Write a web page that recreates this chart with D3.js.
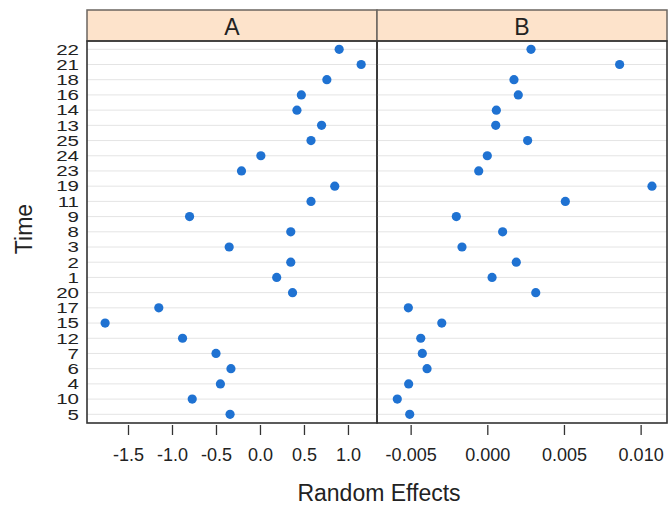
<!DOCTYPE html>
<html>
<head>
<meta charset="utf-8">
<script src="https://cdn.jsdelivr.net/npm/d3@7"></script>
<style>
  body { margin: 0; background: #fff; }
  text { font-family: "Liberation Sans", Arial, sans-serif; fill: #222; }
</style>
</head>
<body>
<svg width="668" height="506"></svg>
<script>
// rows, top to bottom
var times = ["22","21","18","16","14","13","25","24","23","19","11","9","8","3","2","1","20","17","15","12","7","6","4","10","5"];
var effectA = [0.90,1.15,0.76,0.47,0.42,0.70,0.58,0.01,-0.21,0.85,0.58,-0.80,0.35,-0.35,0.35,0.19,0.37,-1.15,-1.76,-0.88,-0.50,-0.33,-0.45,-0.77,-0.34];
var effectB = [0.00285,0.00863,0.00174,0.00202,0.00059,0.00055,0.00263,0.0000,-0.00056,0.01074,0.00509,-0.00202,0.00100,-0.00165,0.00189,0.00031,0.00316,-0.00515,-0.00297,-0.00434,-0.00424,-0.00393,-0.00513,-0.00587,-0.00506];
var ticksA = [-1.5,-1.0,-0.5,0.0,0.5,1.0];
var ticksB = [-0.005,0.000,0.005,0.010];

var svg = d3.select("svg");

var panelTop = 41, panelBottom = 423, stripTop = 10;

var hyphen = f => v => f(v).replace("\u2212", "-");

var panels = [
  { name: "A", x0: 87, x1: 377, domain: [-1.966, 1.330], values: effectA, ticks: ticksA, fmt: hyphen(d3.format(".1f")) },
  { name: "B", x0: 377, x1: 667, domain: [-0.007194, 0.01172], values: effectB, ticks: ticksB, fmt: hyphen(d3.format(".3f")) }
];

var y = d3.scalePoint()
  .domain(times)
  .range([49.3, 414.3]);

panels.forEach(function(p) {
  var x = d3.scaleLinear().domain(p.domain).range([p.x0, p.x1]);
  var g = svg.append("g");

  // strip
  g.append("rect")
    .attr("x", p.x0).attr("y", stripTop)
    .attr("width", p.x1 - p.x0).attr("height", panelTop - stripTop)
    .attr("fill", "#fde3cb")
    .attr("stroke", "#6b6660").attr("stroke-width", 1.5);
  g.append("text")
    .attr("x", (p.x0 + p.x1) / 2).attr("y", 35)
    .attr("text-anchor", "middle")
    .style("font-size", "23px")
    .text(p.name);

  // reference lines
  g.selectAll(".ref")
    .data(times)
    .enter().append("line")
    .attr("x1", p.x0).attr("x2", p.x1)
    .attr("y1", d => y(d)).attr("y2", d => y(d))
    .attr("stroke", "#e4e4e4").attr("stroke-width", 1);

  // points
  g.selectAll(".pt")
    .data(p.values)
    .enter().append("circle")
    .attr("cx", d => x(d))
    .attr("cy", (d, i) => y(times[i]))
    .attr("r", 4.6)
    .attr("fill", "#1f72d2");

  // bottom axis
  var axis = d3.axisBottom(x).tickValues(p.ticks).tickFormat(p.fmt).tickSize(10).tickPadding(13);
  var ax = g.append("g")
    .attr("transform", "translate(0," + (panelBottom + 2) + ")")
    .call(axis);
  ax.select(".domain").remove();
  ax.selectAll(".tick line").attr("stroke", "#333").attr("stroke-width", 1.3);
  ax.selectAll(".tick text")
    .style("font-size", "18px")
    .style("font-family", "'Liberation Sans', Arial, sans-serif")
    .attr("fill", "#222");

  // panel border
  g.append("rect")
    .attr("x", p.x0).attr("y", panelTop)
    .attr("width", p.x1 - p.x0).attr("height", panelBottom - panelTop)
    .attr("fill", "none")
    .attr("stroke", "#333").attr("stroke-width", 1.6);
});

// y labels
svg.append("g").selectAll("text")
  .data(times)
  .enter().append("text")
  .attr("transform", d => "translate(79," + y(d) + ") scale(1,0.72)")
  .attr("text-anchor", "end")
  .attr("dy", "0.36em")
  .style("font-size", "20.5px")
  .text(d => d);

// axis titles
svg.append("text")
  .attr("x", 379).attr("y", 501)
  .attr("text-anchor", "middle")
  .style("font-size", "23px")
  .text("Random Effects");

svg.append("text")
  .attr("transform", "translate(32,229) rotate(-90)")
  .attr("text-anchor", "middle")
  .style("font-size", "23px")
  .text("Time");
</script>
</body>
</html>
